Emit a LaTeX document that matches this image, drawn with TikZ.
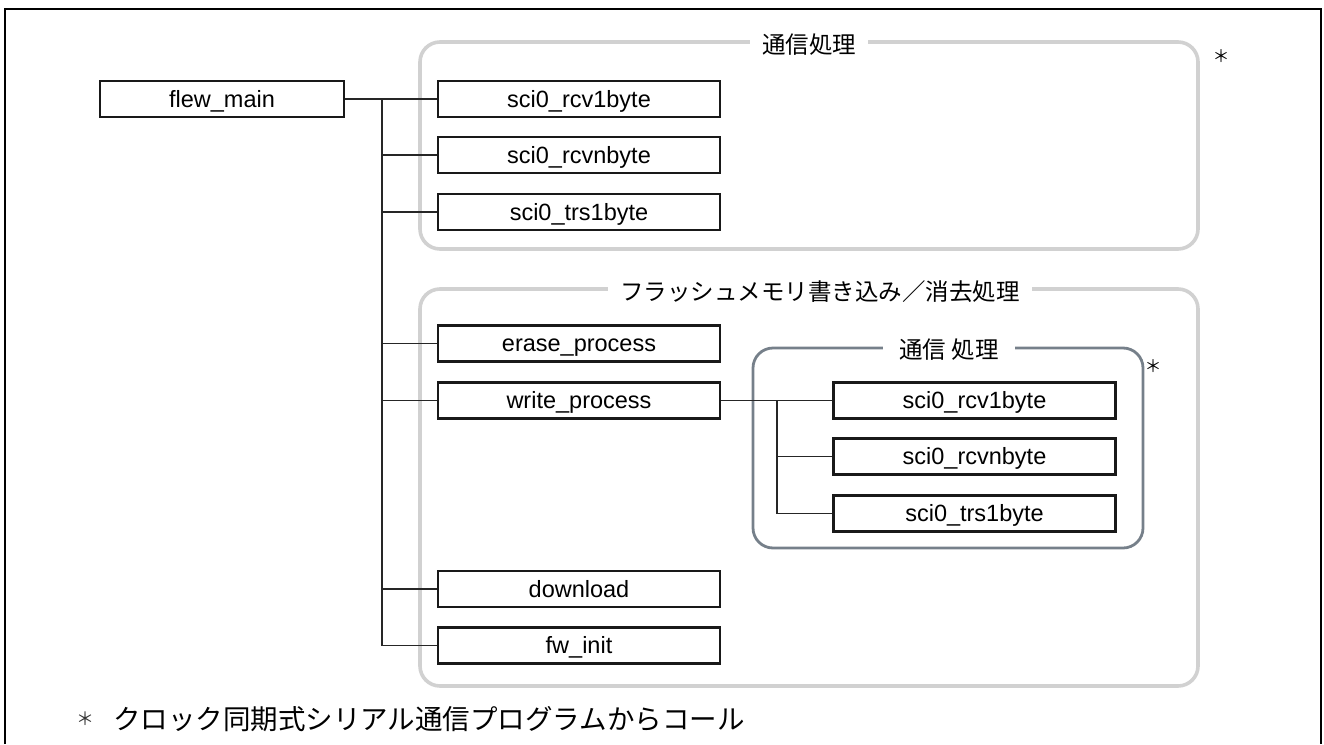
\documentclass[tikz,border=0pt]{standalone}
\usepackage{fontspec}
\setmainfont{Liberation Sans}
\newfontfamily\jp{Noto Sans CJK JP}
\definecolor{igray}{RGB}{118,128,138}
\begin{document}
\begin{tikzpicture}[x=1pt,y=-1pt,
  fbox/.style={draw=black!90, line width=2.8pt, minimum width=282pt, minimum height=36pt, inner sep=0pt, text height=16.8pt, text depth=0pt, font=\fontsize{23.5}{26}\selectfont},
  conn/.style={draw=black!85, line width=1.3pt},
  grp/.style={draw=black!18, line width=3.6pt, rounded corners=20pt},
  igrp/.style={draw=igray, line width=2.8pt, rounded corners=20pt},
  glabel/.style={fill=white, inner xsep=12pt, inner ysep=2pt, font=\jp\fontsize{23.5}{26}\selectfont},
  star/.style={font=\jp\fontsize{17}{18}\selectfont, text=black}]
\useasboundingbox (0,0) rectangle (1324,744);
% outer frame
\draw[line width=2.8pt] (5,744) -- (5,9) -- (1321,9) -- (1321,744);
% group frames
\draw[grp] (420,42) rectangle (1198,249);
\node[glabel] (g1) at (809,45) {通信処理};
\draw[grp] (420,289) rectangle (1198,686);
\node[glabel] (g2) at (820,292) {フラッシュメモリ書き込み／消去処理};
\draw[igrp] (753,348) rectangle (1143,548);
\node[glabel, inner xsep=16pt] (g3) at (949,350) {通信 処理};
\node[star] (s1) at (1221,56) {＊};
\node[star] (s2) at (1153,366) {＊};
% boxes
\node[fbox, minimum width=244pt] (fm) at (222,99) {flew\_main};
\node[fbox] (r1) at (579,99) {sci0\_rcv1byte};
\node[fbox] (rn) at (579,155) {sci0\_rcvnbyte};
\node[fbox] (t1) at (579,212) {sci0\_trs1byte};
\node[fbox] (ep) at (579,343.5) {erase\_process};
\node[fbox] (wp) at (579,400.5) {write\_process};
\node[fbox] (dl) at (579,589) {download};
\node[fbox] (fw) at (579,645.5) {fw\_init};
\node[fbox] (ir1) at (974.5,400.5) {sci0\_rcv1byte};
\node[fbox] (irn) at (974.5,456.5) {sci0\_rcvnbyte};
\node[fbox] (it1) at (974.5,513.5) {sci0\_trs1byte};
% connectors
\coordinate (t) at (382,99);
\draw[conn] (fm.east) -- (r1.west);
\draw[conn] (t) |- (fw.west);
\foreach \n in {rn,t1,ep,wp,dl} \draw[conn] (t |- \n.west) -- (\n.west);
\coordinate (u) at (777,400.5);
\draw[conn] (wp.east) -- (ir1.west);
\draw[conn] (u) |- (it1.west);
\draw[conn] (u |- irn.west) -- (irn.west);
% footer
\node[font=\jp\fontsize{18}{20}\selectfont, text=black!80] (fs) at (85,719) {＊};
\node[font=\jp\fontsize{27.5}{30}\selectfont, anchor=west, inner sep=0pt] (ft) at (113,719) {クロック同期式シリアル通信プログラムからコール};
\end{tikzpicture}
\end{document}
